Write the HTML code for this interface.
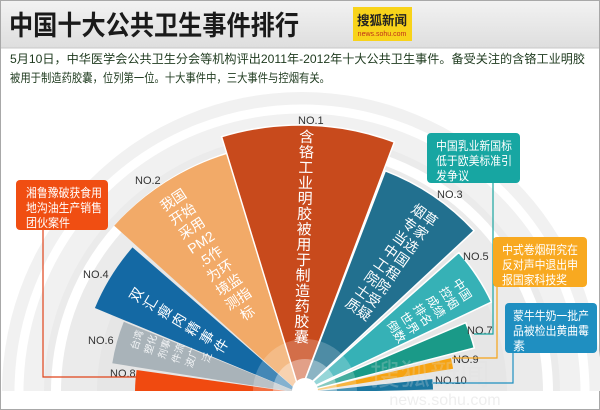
<!DOCTYPE html>
<html><head><meta charset="utf-8"><style>
html,body{margin:0;padding:0;width:600px;height:410px;overflow:hidden;background:#fff;font-family:"Liberation Sans","Noto Sans CJK SC",sans-serif}
svg{display:block}
</style></head><body>
<svg width="600" height="410" viewBox="0 0 600 410" xmlns="http://www.w3.org/2000/svg" font-family="Liberation Sans, Noto Sans CJK SC, sans-serif">
<defs>
<linearGradient id="hd" x1="0" y1="0" x2="0" y2="1"><stop offset="0" stop-color="#f2f2f2"/><stop offset="1" stop-color="#dedede"/></linearGradient>
<clipPath id="cp"><rect x="0" y="0" width="600" height="391"/></clipPath>
</defs>
<rect x="0.5" y="0.5" width="599" height="409" fill="#fff" stroke="#a8a8a8"/>
<rect x="1" y="1" width="598" height="47" fill="url(#hd)"/>
<line x1="1" y1="48" x2="599" y2="48" stroke="#c8c8c8"/>
<text x="9" y="35" font-size="27" font-weight="bold" fill="#1a1a1a" textLength="290" lengthAdjust="spacingAndGlyphs">中国十大公共卫生事件排行</text>
<rect x="353" y="7" width="59" height="34" fill="#f8d31a"/>
<text x="382" y="25" font-size="13" font-weight="bold" fill="#222" text-anchor="middle" textLength="50" lengthAdjust="spacingAndGlyphs">搜狐新闻</text>
<text x="382" y="36" font-size="7" fill="#c0301a" text-anchor="middle">news.sohu.com</text>
<text x="10" y="63" font-size="12" fill="#1e3a1e" textLength="575" lengthAdjust="spacingAndGlyphs">5月10日，中华医学会公共卫生分会等机构评出2011年-2012年十大公共卫生事件。备受关注的含铬工业明胶</text>
<text x="10" y="82" font-size="12" fill="#1e3a1e" textLength="320" lengthAdjust="spacingAndGlyphs">被用于制造药胶囊，位列第一位。十大事件中，三大事件与控烟有关。</text>

<g clip-path="url(#cp)">
<circle cx="302" cy="392" r="300" fill="#f1f1f1"/>
<circle cx="302" cy="392" r="283" fill="none" stroke="#fff" stroke-width="9"/>
<circle cx="302" cy="392" r="258" fill="#ebebeb"/>
<circle cx="302" cy="392" r="246" fill="none" stroke="#fff" stroke-width="10"/>
<circle cx="302" cy="392" r="205" fill="#e6e6e6"/>

<path d="M300,393 L114.2,225.7 A250,250 0 0 1 227,154 Z" fill="#f2aa68"/>
<path d="M300,393 L94.9,308 A222,222 0 0 1 132.5,247.4 Z" fill="#1469a4"/>
<path d="M300,393 L112.3,363.3 A190,190 0 0 1 123.8,321.8 Z" fill="#a9b3b9"/>
<path d="M300,393 L135,393 A165,165 0 0 1 136.6,370 Z" fill="#f04a10"/>
<path d="M300,393 L221.6,136.7 A268,268 0 0 1 394.3,142.1 Z" fill="#c84a1c" stroke="#fff" stroke-width="1.5"/>
<path d="M300,393 L385.3,170.8 A238,238 0 0 1 474.1,230.7 Z" fill="#22708f" stroke="#fff" stroke-width="1.5"/>
<path d="M300,393 L458.8,252.5 A212,212 0 0 1 491.5,302 Z" fill="#36b1b6" stroke="#fff" stroke-width="1.5"/>
<path d="M300,393 L465.7,322.7 A180,180 0 0 1 474.3,348 Z" fill="#1a9a88" stroke="#fff" stroke-width="1.5"/>
<path d="M300,393 L451,358.1 A155,155 0 0 1 453.1,368.8 Z" fill="#f6a312"/>
<path d="M300,393 L432.3,379.1 A133,133 0 0 1 433,389.5 Z" fill="#1b77a0"/>
<circle cx="305" cy="391" r="52" fill="#fff" opacity="0.2"/>
<circle cx="305" cy="391" r="32" fill="#fff" opacity="0.35"/>
<circle cx="305" cy="391" r="13" fill="#fff"/>
</g>
<rect x="1" y="391" width="598" height="18" fill="#fff"/>
<text x="445" y="405" font-size="16" fill="#eeeeee" text-anchor="middle">news.sohu.com</text>
<text x="430" y="385" font-size="30" fill="#e0e0e0" opacity="0.25" text-anchor="middle">搜狐新闻</text>

<g fill="#fff" text-anchor="middle" dominant-baseline="central">
<text font-size="15" transform="rotate(1.5 300 393)">
<tspan x="300" y="137">含</tspan><tspan x="300" y="152.4">铬</tspan><tspan x="300" y="167.8">工</tspan><tspan x="300" y="183.2">业</tspan><tspan x="300" y="198.6">明</tspan><tspan x="300" y="214">胶</tspan><tspan x="300" y="229.4">被</tspan><tspan x="300" y="244.8">用</tspan><tspan x="300" y="260.2">于</tspan><tspan x="300" y="275.6">制</tspan><tspan x="300" y="291">造</tspan><tspan x="300" y="306.4">药</tspan><tspan x="300" y="321.8">胶</tspan><tspan x="300" y="337.2">囊</tspan>
</text>
<text font-size="14" transform="rotate(-33.3 300 393)">
<tspan x="300" y="162">我国</tspan><tspan x="300" y="178.9">开始</tspan><tspan x="300" y="195.8">采用</tspan><tspan x="300" y="212.7">PM2</tspan><tspan x="300" y="229.6">.5作</tspan><tspan x="300" y="246.5">为环</tspan><tspan x="300" y="263.4">境监</tspan><tspan x="300" y="280.3">测指</tspan><tspan x="300" y="297.2">标</tspan>
</text>
<text font-size="14" transform="rotate(35 300 393)">
<tspan x="300" y="176">烟草</tspan><tspan x="300" y="192.4">专家</tspan><tspan x="300" y="208.8">当选</tspan><tspan x="300" y="225.2">中国</tspan><tspan x="300" y="241.6">工程</tspan><tspan x="300" y="258">院院</tspan><tspan x="300" y="274.4">士受</tspan><tspan x="300" y="290.8">质疑</tspan>
</text>
<text font-size="14" transform="rotate(-59 300 393)">
<tspan x="300" y="202">双</tspan><tspan x="300" y="218.5">汇</tspan><tspan x="300" y="235">瘦</tspan><tspan x="300" y="251.5">肉</tspan><tspan x="300" y="268">精</tspan><tspan x="300" y="284.5">事</tspan><tspan x="300" y="301">件</tspan>
</text>
<text font-size="12" transform="rotate(57.5 300 393)">
<tspan x="300" y="201">中国</tspan><tspan x="300" y="216.6">控烟</tspan><tspan x="300" y="232.2">成绩</tspan><tspan x="300" y="247.8">排名</tspan><tspan x="300" y="263.4">世界</tspan><tspan x="300" y="279">倒数</tspan>
</text>
<text font-size="10" fill="#f2f4f6" transform="rotate(-72 300 393)">
<tspan x="300" y="222">台湾</tspan><tspan x="300" y="236.4">塑化</tspan><tspan x="300" y="250.8">剂事</tspan><tspan x="300" y="265.2">件流</tspan><tspan x="300" y="279.6">波广</tspan><tspan x="305" y="294">泛</tspan>
</text>
</g>

<g font-size="11" fill="#333">
<text x="298" y="124">NO.1</text>
<text x="135" y="184">NO.2</text>
<text x="437" y="198">NO.3</text>
<text x="83" y="278">NO.4</text>
<text x="463" y="260">NO.5</text>
<text x="88" y="344">NO.6</text>
<text x="467" y="334">NO.7</text>
<text x="110" y="377">NO.8</text>
<text x="453" y="363">NO.9</text>
<text x="435" y="384">NO.10</text>
</g>

<g fill="none" stroke-width="1.2">
<polyline points="43,230 43,377 137,377" stroke="#e0441a"/>
<polyline points="493,183 493,334 474,334" stroke="#1aa5a0"/>
<polyline points="497,287 497,358 452,358" stroke="#f5a418"/>
<polyline points="513,353 513,383 433,383" stroke="#1f8fc0"/>
</g>
<rect x="16" y="180" width="92" height="50" rx="4" fill="#f04e12"/>
<rect x="427" y="133" width="93" height="50" rx="4" fill="#17a6a2"/>
<rect x="493" y="237" width="94" height="50" rx="4" fill="#f8a920"/>
<rect x="505" y="303" width="92" height="50" rx="4" fill="#1f8fc1"/>
<g font-size="12" fill="#fff" lengthAdjust="spacingAndGlyphs">
<text x="26" y="197" textLength="76" lengthAdjust="spacingAndGlyphs">湘鲁豫破获食用</text><text x="26" y="212" textLength="76" lengthAdjust="spacingAndGlyphs">地沟油生产销售</text><text x="26" y="227" textLength="44" lengthAdjust="spacingAndGlyphs">团伙案件</text>
<text x="436" y="150" textLength="76" lengthAdjust="spacingAndGlyphs">中国乳业新国标</text><text x="436" y="165" textLength="76" lengthAdjust="spacingAndGlyphs">低于欧美标准引</text><text x="436" y="180" textLength="33" lengthAdjust="spacingAndGlyphs">发争议</text>
<text x="502" y="254" textLength="76" lengthAdjust="spacingAndGlyphs">中式卷烟研究在</text><text x="502" y="269" textLength="76" lengthAdjust="spacingAndGlyphs">反对声中退出申</text><text x="502" y="284" textLength="65" lengthAdjust="spacingAndGlyphs">报国家科技奖</text>
<text x="513" y="320" textLength="76" lengthAdjust="spacingAndGlyphs">蒙牛牛奶一批产</text><text x="513" y="335" textLength="76" lengthAdjust="spacingAndGlyphs">品被检出黄曲霉</text><text x="513" y="350">素</text>
</g>
</svg>
</body></html>
